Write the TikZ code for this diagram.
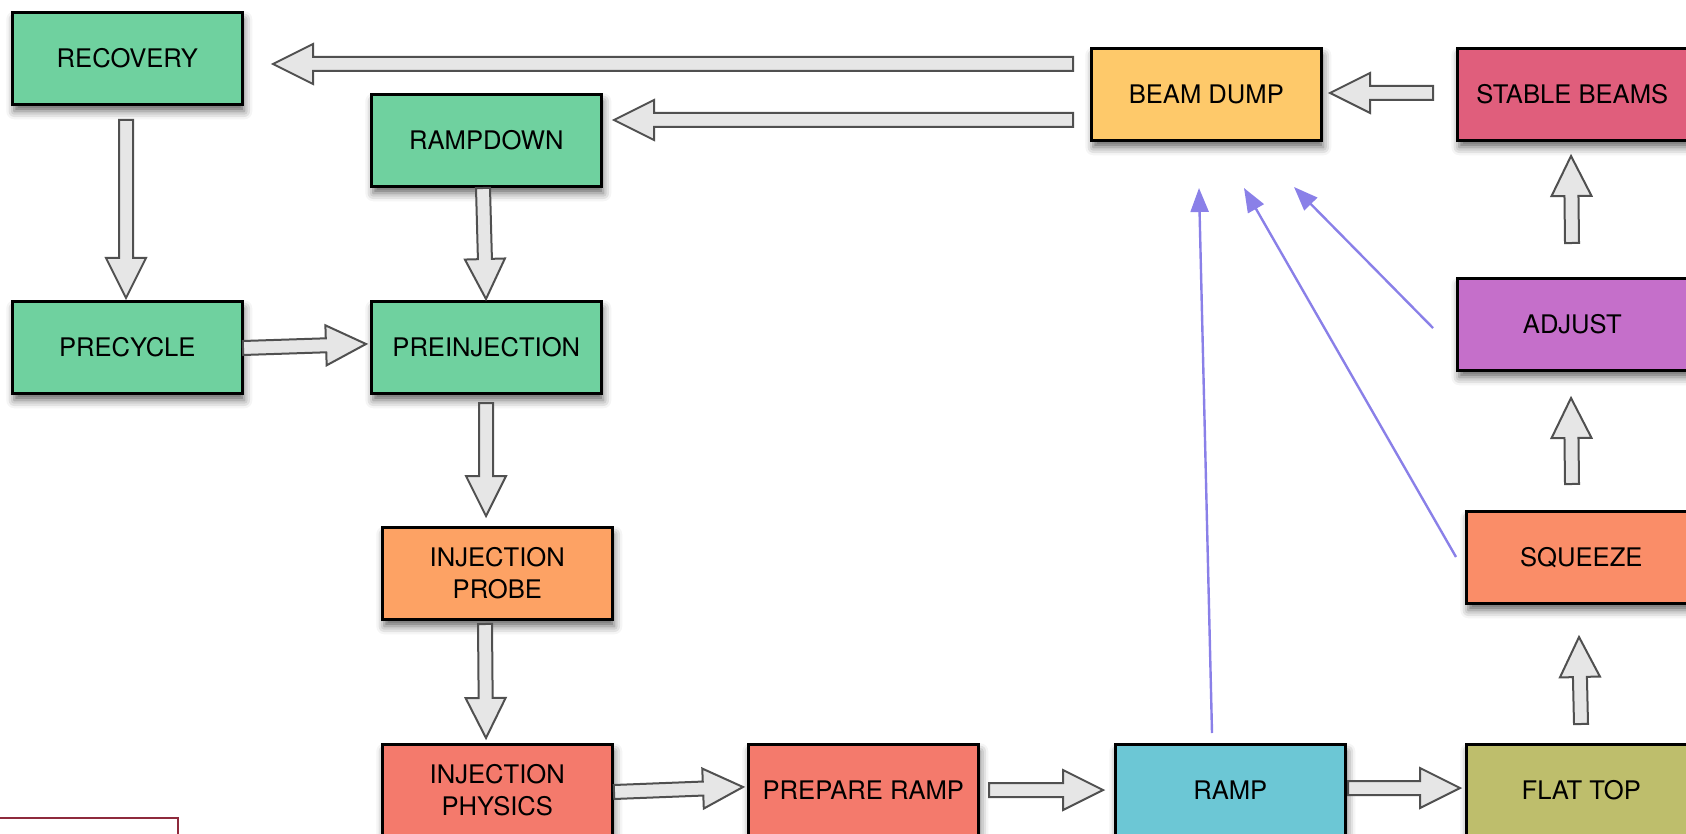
\documentclass[tikz,border=0pt]{standalone}
\usepackage{fontspec}
\setmainfont{TeX Gyre Heros}
\usetikzlibrary{calc,arrows.meta,shadows.blur}
\definecolor{cgreen}{HTML}{6FD19F}
\definecolor{cdump}{HTML}{FEC96A}
\definecolor{cstable}{HTML}{E05E7C}
\definecolor{cadjust}{HTML}{C56FCA}
\definecolor{csqueeze}{HTML}{FA8D68}
\definecolor{cprobe}{HTML}{FDA264}
\definecolor{cphys}{HTML}{F47A6C}
\definecolor{cramp}{HTML}{6CC7D5}
\definecolor{cflat}{HTML}{BEBE6C}
\definecolor{cblue}{HTML}{8A80E8}
\definecolor{credline}{HTML}{8E2A3C}
\definecolor{cblkfill}{HTML}{E6E6E6}
\definecolor{cblkdraw}{HTML}{505050}
\tikzset{
  box/.style={draw=black, line width=1.3pt, minimum width=115pt, minimum height=46pt,
    anchor=north west, inner sep=0pt, align=center,
    font=\fontsize{12.8}{16}\selectfont, text=black,
    blur shadow={shadow xshift=1pt, shadow yshift=-3.5pt, shadow blur radius=4pt, shadow opacity=60}},
  blk/.style={draw=cblkdraw, fill=cblkfill, line width=1pt, line join=miter},
  thinarrow/.style={draw=cblue, line width=1.2pt, -{Triangle[length=12pt,width=9pt]}},
}
\newcommand{\blkarrow}[2]{%
  \coordinate (#1-h) at ($(#2)!20pt!(#1)$);
  \draw[blk] ($(#1)!3.5pt!90:(#2)$) -- ($(#1-h)!3.5pt!90:(#2)$) -- ($(#1-h)!10pt!90:(#2)$)
    -- (#2) -- ($(#1-h)!10pt!-90:(#2)$) -- ($(#1-h)!3.5pt!-90:(#2)$)
    -- ($(#1)!3.5pt!-90:(#2)$) -- cycle;}
\begin{document}
\begin{tikzpicture}[x=0.5pt,y=-0.5pt]
\useasboundingbox (0,0) rectangle (1686,834);
% nodes
\node[box, fill=cgreen] (rec) at (11,11) {RECOVERY};
\node[box, fill=cgreen] (rmpd) at (370,93) {RAMPDOWN};
\node[box, fill=cdump] (bd) at (1090,47) {BEAM DUMP};
\node[box, fill=cstable] (sb) at (1456,47) {STABLE BEAMS};
\node[box, fill=cgreen] (pre) at (11,300) {PRECYCLE};
\node[box, fill=cgreen] (pinj) at (370,300) {PREINJECTION};
\node[box, fill=cprobe] (iprobe) at (381,526) {INJECTION\\PROBE};
\node[box, fill=cphys] (iphys) at (381,743) {INJECTION\\PHYSICS};
\node[box, fill=cphys] (prep) at (747,743) {PREPARE RAMP};
\node[box, fill=cramp] (ramp) at (1114,743) {RAMP};
\node[box, fill=cflat] (flat) at (1465,743) {FLAT TOP};
\node[box, fill=cadjust] (adj) at (1456,277) {ADJUST};
\node[box, fill=csqueeze] (sq) at (1465,510) {SQUEEZE};
% red outline box at bottom left
\draw[credline, line width=1pt] (-5,818) rectangle (178,850);
% block arrow end points
\coordinate (a1s) at (1073,64);  \coordinate (a1t) at (273,64);
\coordinate (a2s) at (1073,120); \coordinate (a2t) at (614,120);
\coordinate (a3s) at (1433,93);  \coordinate (a3t) at (1330,93);
\coordinate (a4s) at (126,120);  \coordinate (a4t) at (126,298);
\coordinate (a5s) at (483,188);  \coordinate (a5t) at (486,299);
\coordinate (a6s) at (243,348);  \coordinate (a6t) at (366,344);
\coordinate (a7s) at (486,403);  \coordinate (a7t) at (486,516);
\coordinate (a8s) at (485,624);  \coordinate (a8t) at (486,738);
\coordinate (a9s) at (614,792);  \coordinate (a9t) at (743,787);
\coordinate (a10s) at (989,790); \coordinate (a10t) at (1103,790);
\coordinate (a11s) at (1348,788); \coordinate (a11t) at (1460,788);
\coordinate (a12s) at (1581,724); \coordinate (a12t) at (1579,637);
\coordinate (a13s) at (1572,484); \coordinate (a13t) at (1571,398);
\coordinate (a14s) at (1572,243); \coordinate (a14t) at (1571,156);
\blkarrow{a1s}{a1t}
\blkarrow{a2s}{a2t}
\blkarrow{a3s}{a3t}
\blkarrow{a4s}{a4t}
\blkarrow{a5s}{a5t}
\blkarrow{a6s}{a6t}
\blkarrow{a7s}{a7t}
\blkarrow{a8s}{a8t}
\blkarrow{a9s}{a9t}
\blkarrow{a10s}{a10t}
\blkarrow{a11s}{a11t}
\blkarrow{a12s}{a12t}
\blkarrow{a13s}{a13t}
\blkarrow{a14s}{a14t}
% thin blue arrows
\coordinate (b1s) at (1212,733); \coordinate (b1t) at (1199,188);
\coordinate (b2s) at (1456,557); \coordinate (b2t) at (1244,188);
\coordinate (b3s) at (1433,328); \coordinate (b3t) at (1294,187);
\draw[thinarrow] (b1s) -- (b1t);
\draw[thinarrow] (b2s) -- (b2t);
\draw[thinarrow] (b3s) -- (b3t);
\end{tikzpicture}
\end{document}
